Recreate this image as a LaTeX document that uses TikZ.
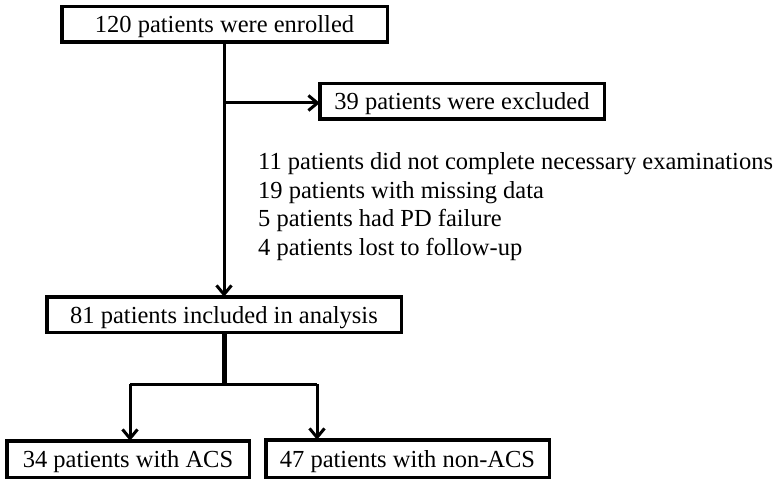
\documentclass[tikz,border=0pt]{standalone}
\usepackage{fontspec}
\setmainfont{Liberation Serif}
\usetikzlibrary{arrows.meta}
\begin{document}
\begin{tikzpicture}[x=1pt,y=-1pt,
  box/.style={draw=black,line width=3.5pt,inner sep=0pt,outer sep=0pt,text depth=0pt,font=\fontsize{24.5}{28.5}\selectfont},
  conn/.style={line width=3pt},
  thickconn/.style={line width=5pt},
  arr/.style={conn,-{Straight Barb[length=9pt,width=15pt,line width=3pt]}}]
\useasboundingbox[fill=white] (0,0) rectangle (780,484);
\node[box,minimum width=325.5pt,minimum height=35.5pt] (b1) at (224.5,24.5) {120 patients were enrolled};
\node[box,minimum width=284.5pt,minimum height=35.5pt] (b2) at (462,101.5) {39 patients were excluded};
\node[box,minimum width=354.5pt,minimum height=35.5pt] (b3) at (224,314.5) {81 patients included in analysis};
\node[box,minimum width=242.5pt,minimum height=36.5pt] (b4) at (128,459) {34 patients with ACS};
\node[box,minimum width=283.5pt,minimum height=37.5pt] (b5) at (407.5,458.5) {47 patients with non-ACS};
\node[anchor=base west,align=left,inner sep=0pt,font=\fontsize{24.5}{28.5}\selectfont] (list) at (258,255)
  {11 patients did not complete necessary examinations\\19 patients with missing data\\5 patients had PD failure\\4 patients lost to follow-up};
\coordinate (j1) at (224,103);
\coordinate (j2) at (224,384);
\coordinate (s1) at (130,384);
\coordinate (s2) at (317,384);
\draw[arr] (b1.south -| j1) -- (b3.north -| j1);
\draw[arr] (j1) -- (b2.west |- j1);
\draw[thickconn] (b3.south -| j2) -- (j2);
\draw[conn] (s1) -- (s2);
\draw[arr] (s1) -- (s1 |- b4.north);
\draw[arr] (s2) -- (s2 |- b5.north);
\end{tikzpicture}
\end{document}
